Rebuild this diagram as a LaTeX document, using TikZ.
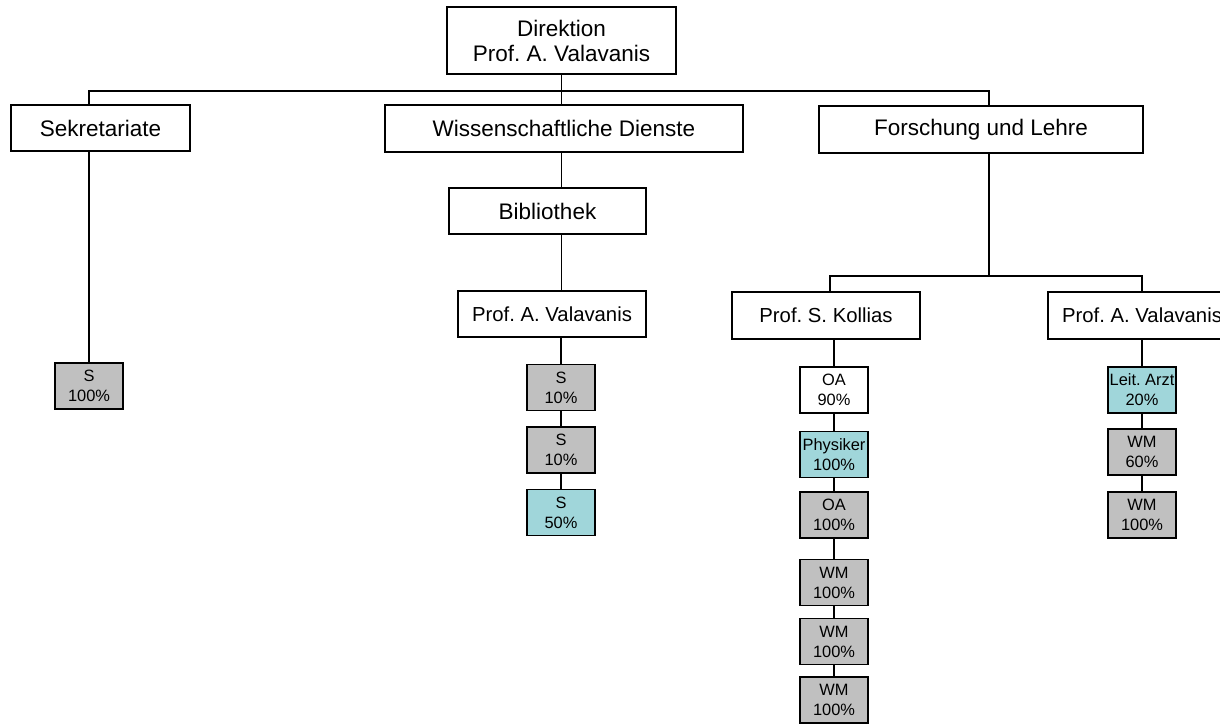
\documentclass[tikz,border=0pt]{standalone}
\usepackage{fontspec}
\setmainfont{Liberation Sans}
\usepackage{xcolor}

\definecolor{boxgray}{RGB}{192,192,192}
\definecolor{boxteal}{RGB}{160,214,218}
\newcommand{\orgbig}{\fontsize{22.5}{25}\selectfont}
\newcommand{\orgmid}{\fontsize{20.3}{24}\selectfont}
\newcommand{\orgsmall}{\fontsize{16.4}{20}\selectfont}
\frenchspacing

\begin{document}
\begin{tikzpicture}[x=1pt, y=-1pt,
    orgbox/.style={draw, line width=1.4pt, fill=white, rectangle, inner sep=0pt, align=center, minimum height=46pt},
    staff/.style={orgbox, font=\orgsmall, minimum width=68pt},
    staffgray/.style={staff, fill=boxgray},
    staffteal/.style={staff, fill=boxteal},
    conn/.style={line width=1.4pt}]

    \useasboundingbox (0,0) rectangle (1220,725);
    \clip (0,0) rectangle (1220,725);

    % Direktion
    \node[orgbox, font=\orgbig, minimum width=229pt, minimum height=67pt] (dir) at (561.5,40.5) {Direktion\\Prof. A. Valavanis};

    % Second level
    \node[orgbox, font=\orgbig, minimum width=179pt] (sek) at (100.5,128) {Sekretariate};
    \node[orgbox, font=\orgbig, minimum width=358pt, minimum height=47pt] (wiss) at (564,128.5) {Wissenschaftliche Dienste};
    \node[orgbox, font=\orgbig, minimum width=324pt, minimum height=47pt] (fol) at (981,129.5) {Forschung und Lehre};

    % Wissenschaftliche Dienste branch
    \node[orgbox, font=\orgbig, minimum width=197pt] (bib) at (547.5,211) {Bibliothek};
    \node[orgbox, font=\orgmid, minimum width=188pt] (valm) at (552,314) {Prof. A. Valavanis};

    % Forschung und Lehre branch
    \node[orgbox, font=\orgmid, minimum width=188pt, minimum height=47pt] (kol) at (826,315.5) {Prof. S. Kollias};
    \node[orgbox, font=\orgmid, minimum width=188pt, minimum height=47pt] (valr) at (1142,315.5) {Prof. A. Valavanis};

    % Staff of Sekretariate
    \node[staffgray] (sek1) at (89,386) {S\\100\%};

    % Staff of Bibliothek
    \node[staffgray] (bib1) at (561,387.5) {S\\10\%};
    \node[staffgray] (bib2) at (561,450) {S\\10\%};
    \node[staffteal] (bib3) at (561,512.5) {S\\50\%};

    % Staff of Prof. S. Kollias
    \node[staff] (kol1) at (834,390) {OA\\90\%};
    \node[staffteal] (kol2) at (834,454.5) {Physiker\\100\%};
    \node[staffgray] (kol3) at (834,515) {OA\\100\%};
    \node[staffgray] (kol4) at (834,582.5) {WM\\100\%};
    \node[staffgray] (kol5) at (834,641.5) {WM\\100\%};
    \node[staffgray] (kol6) at (834,700) {WM\\100\%};

    % Staff of Prof. A. Valavanis
    \node[staffteal] (val1) at (1142,390) {Leit. Arzt\\20\%};
    \node[staffgray] (val2) at (1142,452) {WM\\60\%};
    \node[staffgray] (val3) at (1142,515) {WM\\100\%};

    % Connectors, top level
    \coordinate (topbus) at (561.5,91);
    \draw[conn] (dir.south) -- (dir.south |- wiss.north);
    \draw[conn] ([xshift=-11.5pt]sek.north) |- (topbus) -| ([xshift=8pt]fol.north);

    % Connectors, Wissenschaftliche Dienste
    \draw[conn] (dir.south |- wiss.south) -- (dir.south |- bib.north);
    \draw[conn] (dir.south |- bib.south) -- (dir.south |- valm.north);
    \draw[conn] (bib1.north |- valm.south) -- (bib1.north);
    \draw[conn] (bib1) -- (bib2) -- (bib3);

    % Connectors, Sekretariate
    \draw[conn] (sek1.north |- sek.south) -- (sek1.north);

    % Connectors, Forschung und Lehre
    \coordinate (midbus) at (989,276);
    \draw[conn] ([xshift=8pt]fol.south) -- (midbus);
    \draw[conn] ([xshift=4pt]kol.north) |- (midbus) -| (valr.north);
    \draw[conn] (kol1.north |- kol.south) -- (kol1.north);
    \draw[conn] (kol1) -- (kol2) -- (kol3) -- (kol4) -- (kol5) -- (kol6);
    \draw[conn] (val1.north |- valr.south) -- (val1.north);
    \draw[conn] (val1) -- (val2) -- (val3);

\end{tikzpicture}
\end{document}
